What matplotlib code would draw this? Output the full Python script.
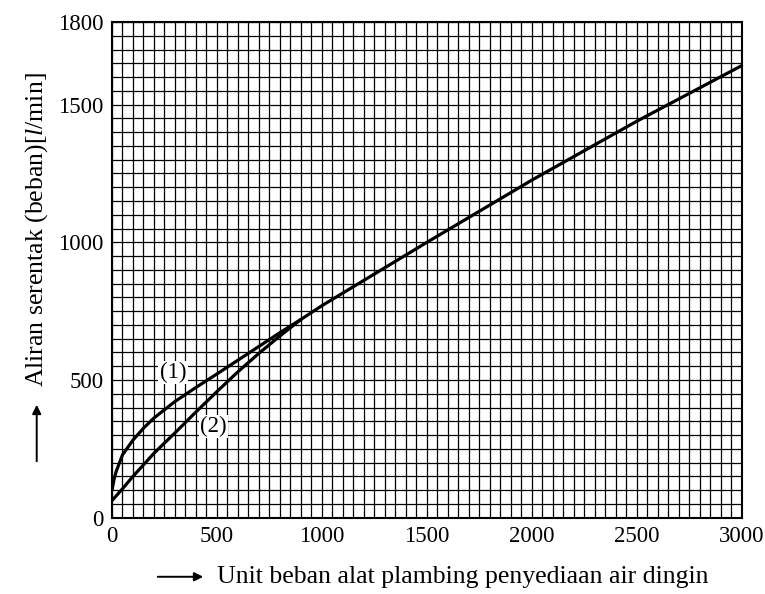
import matplotlib.pyplot as plt
import numpy as np

# curve (1) and (2)
x1 = [0, 10, 20, 50, 100, 150, 200, 300, 400, 500, 600, 700, 800, 900, 1000, 1500, 2000, 2500, 3000]
y1 = [100, 140, 168, 228, 282, 325, 362, 422, 473, 522, 572, 622, 672, 720, 770, 1000, 1226, 1440, 1642]

x2 = [0, 50, 100, 150, 200, 300, 400, 500, 600, 700, 800, 900]
y2 = [62, 105, 150, 192, 234, 308, 384, 458, 530, 597, 660, 720]

xticks = [0, 500, 1000, 1500, 2000, 2500, 3000]
yticks = [0, 500, 1000, 1500, 1800]

plt.rcParams['font.family'] = ['Liberation Serif', 'DejaVu Serif']
plt.rcParams['mathtext.fontset'] = 'custom'
plt.rcParams['mathtext.it'] = 'Liberation Serif:italic'
plt.rcParams['mathtext.rm'] = 'Liberation Serif'

fig = plt.figure(figsize=(7.65, 5.94), dpi=100)
ax = fig.add_axes([0.1464, 0.1285, 0.8235, 0.8345])

ax.set_xlim(0, 3000)
ax.set_ylim(0, 1800)
ax.set_xticks(np.arange(0, 3001, 50), minor=True)
ax.set_yticks(np.arange(0, 1801, 50), minor=True)
ax.set_xticks(xticks)
ax.set_yticks(yticks)
ax.grid(which='both', color='black', linewidth=0.9)
ax.set_axisbelow(True)
ax.tick_params(which='both', length=0, labelsize=16.5, pad=6)
for s in ax.spines.values():
    s.set_linewidth(1.5)

ax.plot(x1, y1, color='black', linewidth=2.3, solid_capstyle='round', solid_joinstyle='round')
ax.plot(x2, y2, color='black', linewidth=2.3, solid_capstyle='round', solid_joinstyle='round')

ax.text(291, 527, '(1)', fontsize=16.5, ha='center', va='center',
        bbox=dict(facecolor='white', edgecolor='none', pad=1))
ax.text(482, 331, '(2)', fontsize=16.5, ha='center', va='center',
        bbox=dict(facecolor='white', edgecolor='none', pad=1))

# axis titles with their arrows
fig.text(0.284, 0.029, 'Unit beban alat plambing penyediaan air dingin',
         fontsize=18.5, ha='left', va='center')
ax.annotate('', xy=(206 / 765, 0.029), xytext=(155 / 765, 0.029),
            xycoords='figure fraction',
            arrowprops=dict(arrowstyle='-|>', lw=1.4, color='black', mutation_scale=13))
fig.text(0.048, 0.613, 'Aliran serentak (beban)[$\\it{l}$/min]',
         fontsize=18.5, rotation=90, ha='center', va='center')
ax.annotate('', xy=(0.048, 1 - 402 / 594), xytext=(0.048, 1 - 464 / 594),
            xycoords='figure fraction',
            arrowprops=dict(arrowstyle='-|>', lw=1.4, color='black', mutation_scale=13))

fig.savefig('out.png', dpi=100)
